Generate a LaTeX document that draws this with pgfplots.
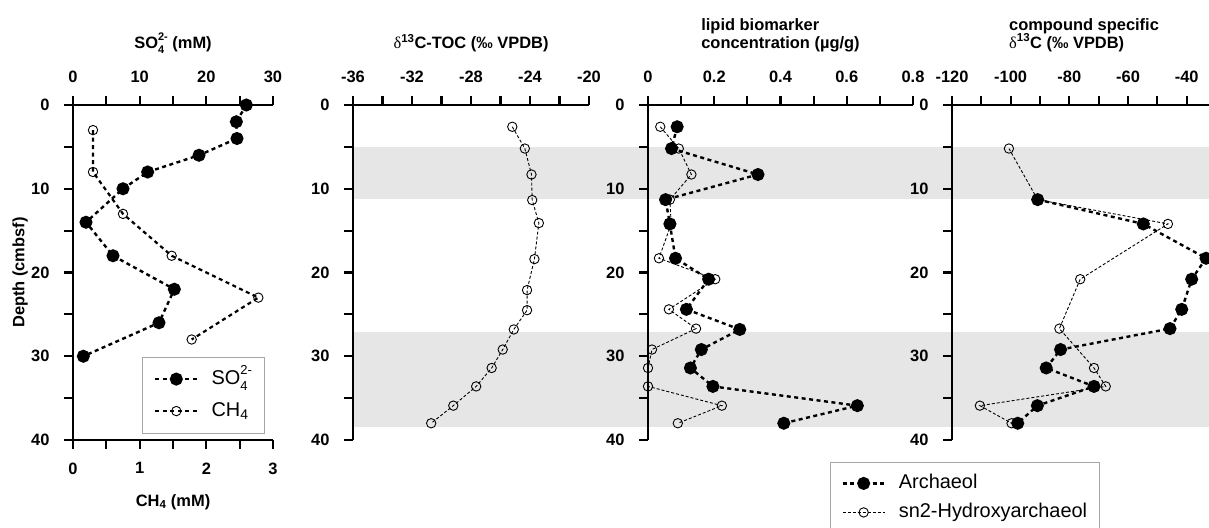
\documentclass[border=0pt]{standalone}
\usepackage{fontspec}
\setmainfont{Liberation Sans}
\newfontfamily\grk{Liberation Serif}
\usepackage{pgfplots}
\pgfplotsset{compat=1.18}

\definecolor{band}{RGB}{230,230,230}
\definecolor{thin}{RGB}{150,150,150}

\newcommand{\tickfont}{\fontsize{16.5}{18}\selectfont\bfseries}
\newcommand{\legfont}{\fontsize{20}{24}\selectfont}
% SO4 2- with stacked sub/superscript; #1 = script size in bp
\newcommand{\sulf}[1]{SO\rlap{\raisebox{-0.32em}{\fontsize{#1bp}{#1bp}\selectfont 4}}%
  \raisebox{0.5em}{\fontsize{#1bp}{#1bp}\selectfont 2-}}

\pgfplotsset{
  every non boxed x axis/.style={},
  every non boxed y axis/.style={},
  dpanel/.style={
    scale only axis, height=335bp, ymin=0, ymax=40, y dir=reverse,
    enlargelimits=false, clip=false,
    axis x line=top, axis y line=left,
    axis line style={-, line width=2.2bp, black},
    tick align=outside, major tick length=9bp, minor tick length=9bp,
    tick style={line width=2.2bp, black},
    xticklabel shift=10bp, yticklabel shift=11bp,
    ytick={0,10,20,30,40}, yticklabels={0,10,20,30,40}, minor ytick={5,15,25,35},
    tick label style={font=\tickfont},
    title style={at={(axis description cs:0.5,1)}, anchor=center, yshift=56bp,
      font=\tickfont, align=left},
    legend image code/.code={\draw[mark repeat=2,mark phase=2,##1]
      plot coordinates {(0bp,0bp) (21bp,0bp) (42bp,0bp)};},
  },
  fillser/.style={black, line width=2.4bp, dash pattern=on 4bp off 3.5bp,
    mark=*, mark size=5.3bp, mark options={solid, fill=black, draw=black}},
  openthick/.style={black, line width=2.2bp, dash pattern=on 4bp off 3.5bp,
    mark=o, mark size=4.7bp, mark options={solid, draw=black, line width=0.9bp}},
  openthin/.style={thin, line width=0.9bp, dash pattern=on 3bp off 2bp,
    mark=o, mark size=4.7bp, mark options={solid, draw=black, line width=0.9bp}},
  boxleg/.style={draw=black!35, line width=0.8bp, fill=white, font=\legfont,
    column sep=12bp, nodes={inner sep=1bp, text height=14bp, text depth=4bp}},
}

\begin{document}
\begin{tikzpicture}
\useasboundingbox (0,0) rectangle (1209bp,528bp);
\fill[band] (353bp,381.1bp) rectangle (1209bp,329.2bp);
\fill[band] (353bp,196bp) rectangle (1209bp,100.6bp);

% panel 1: sulfate (top scale)
\begin{axis}[dpanel, at={(73bp,423bp)}, anchor=north west, width=200bp,
  xmin=0, xmax=30, xtick={0,10,20,30}, xticklabels={0,10,20,30},
  minor xtick={5,15,25},
  title={\sulf{11} (mM)},
  ylabel={Depth (cmbsf)},
  ylabel style={at={(axis description cs:0,0.5)}, anchor=center, yshift=53bp,
    font=\tickfont}]
\addplot[fillser] coordinates {
  (26.0,0) (24.5,2) (24.6,4) (18.9,6) (11.2,8) (7.5,10) (1.95,14)
  (6.0,18) (15.2,22) (12.9,26) (1.55,30)};
\end{axis}

% panel 1: methane (bottom scale)
\begin{axis}[dpanel, at={(73bp,423bp)}, anchor=north west, width=200bp,
  axis x line=bottom, axis y line=none,
  xmin=0, xmax=3, xtick={0,1,2,3}, xticklabels={0,1,2,3},
  minor xtick={0.5,1.5,2.5},
  xlabel={CH\textsubscript{4} (mM)},
  xlabel style={at={(axis description cs:0.5,0)}, anchor=center, yshift=-62bp,
    font=\tickfont},
  legend style={boxleg, at={(axis description cs:0.3435,0.2487)}, anchor=north west,
    inner xsep=12bp, inner ysep=12bp, row sep=12bp},
  legend cell align=left]
\addlegendimage{fillser}
\addlegendentry{\sulf{13}}
\addplot[openthick] coordinates {
  (0.30,3) (0.30,8) (0.75,13) (1.48,18) (2.78,23) (1.78,28)};
\addlegendentry{CH\textsubscript{4}}
\end{axis}

% panel 2: d13C TOC
\begin{axis}[dpanel, at={(353bp,423bp)}, anchor=north west, width=236bp,
  xmin=-36, xmax=-20, xtick={-36,-32,-28,-24,-20},
  xticklabels={-36,-32,-28,-24,-20}, minor xtick={-34,-30,-26,-22},
  title={{\grk\mdseries δ}\textsuperscript{13}C-TOC (‰ VPDB)}]
\addplot[openthin] coordinates {
  (-25.2,2.6) (-24.35,5.2) (-23.9,8.3) (-23.85,11.35) (-23.4,14.1)
  (-23.7,18.4) (-24.2,22.1) (-24.2,24.5) (-25.1,26.8) (-25.85,29.2)
  (-26.6,31.4) (-27.65,33.6) (-29.2,35.9) (-30.7,38.0)};
\end{axis}

% panel 3: lipid concentration
\begin{axis}[dpanel, at={(648bp,423bp)}, anchor=north west, width=265bp,
  xmin=0, xmax=0.8, xtick={0,0.2,0.4,0.6,0.8},
  xticklabels={0,0.2,0.4,0.6,0.8}, minor xtick={0.1,0.3,0.5,0.7},
  title={lipid biomarker\\concentration (µg/g)},
  title style={yshift=8bp},
  legend style={boxleg, at={(axis description cs:0.687,-0.0657)}, anchor=north west,
    inner xsep=11bp, inner ysep=11bp, row sep=9bp},
  legend cell align=left]
\addplot[fillser] coordinates {
  (0.088,2.6) (0.071,5.2) (0.332,8.3) (0.053,11.3) (0.066,14.2)
  (0.083,18.3) (0.183,20.8) (0.116,24.4) (0.277,26.8) (0.161,29.2)
  (0.128,31.4) (0.196,33.6) (0.632,35.9) (0.410,38.0)};
\addlegendentry{Archaeol}
\addplot[openthin] coordinates {
  (0.037,2.6) (0.093,5.2) (0.131,8.3) (0.066,11.3) (0.070,14.2)
  (0.033,18.3) (0.203,20.8) (0.063,24.4) (0.145,26.7) (0.012,29.2)
  (0.0,31.4) (0.0,33.6) (0.223,35.9) (0.090,38.0)};
\addlegendentry{sn2-Hydroxyarchaeol}
\end{axis}

% panel 4: compound specific d13C
\begin{axis}[dpanel, at={(952bp,423bp)}, anchor=north west, width=257bp,
  xmin=-120, xmax=-32.4, xtick={-120,-100,-80,-60,-40},
  xticklabels={-120,-100,-80,-60,-40}, minor xtick={-110,-90,-70,-50},
  title={compound specific\\{\grk\mdseries δ}\textsuperscript{13}C (‰ VPDB)},
  title style={yshift=8bp, xshift=3.5bp}]
\addplot[fillser] coordinates {
  (-90.8,11.3) (-54.8,14.2) (-33.4,18.3) (-38.3,20.8) (-41.7,24.4)
  (-45.7,26.7) (-83.0,29.2) (-87.9,31.4) (-71.6,33.6) (-90.9,35.9)
  (-97.6,38.0)};
\addplot[openthin] coordinates {
  (-100.6,5.2) (-90.8,11.3) (-46.4,14.2) (-76.3,20.8) (-83.4,26.7)
  (-71.6,31.4) (-67.6,33.6) (-110.5,35.9) (-99.7,38.0)};
\end{axis}
\end{tikzpicture}
\end{document}
